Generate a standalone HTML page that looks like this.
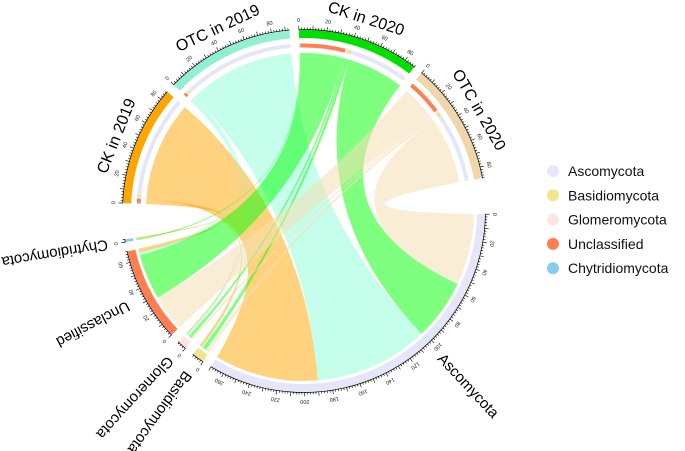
<!DOCTYPE html>
<html><head><meta charset="utf-8"><style>
html,body{margin:0;padding:0;background:#fff;}
svg{display:block;font-family:"Liberation Sans",sans-serif;}
</style></head><body>
<svg id="chart" width="685" height="451" viewBox="0 0 685 451">
<g id="ribbons"></g>
<g id="tracks"></g>
<g id="ticks"></g>
<g id="labels"></g>
<g id="legend"></g>
</svg>
<script>
const speciesNames = ["Ascomycota","Basidiomycota","Glomeromycota","Unclassified","Chytridiomycota"];
const sampleNames = ["CK in 2019","OTC in 2019","CK in 2020","OTC in 2020"];
// rows: species; columns: samples
const flowAsco = [80,88,47,55];
const flowBasid = [2,1,3,3];
const flowGlom = [1,2,2,2];
const flowUnclass = [3,2,35,28];
const flowChytrid = [1,0,1,0];
const legendLabels = ["Ascomycota","Basidiomycota","Glomeromycota","Unclassified","Chytridiomycota"];

const matrix=[flowAsco,flowBasid,flowGlom,flowUnclass,flowChytrid];
const speciesColor=["#E6E6FA","#F0E68C","#FFE4E1","#FF7F50","#87CEEB"];
const sampleBand=["#FFA500","#90F0D0","#00E000","#F0D6A8"];
const sampleRibbon=["rgba(255,165,0,0.5)","rgba(127,255,212,0.45)","rgba(0,255,0,0.5)","rgba(245,222,179,0.55)"];
const cx=304, cy=211, R1=173, R2=181;
const NS='http://www.w3.org/2000/svg';
const rad=d=>d*Math.PI/180;
const pt=(r,a)=>[cx+r*Math.cos(rad(a)),cy+r*Math.sin(rad(a))];
function mk(tag,attrs,parent){const e=document.createElementNS(NS,tag);for(const k in attrs)e.setAttribute(k,attrs[k]);parent.appendChild(e);return e;}

const spTot=matrix.map(r=>r.reduce((a,b)=>a+b,0));
const saTot=sampleNames.map((_,j)=>matrix.reduce((a,r)=>a+r[j],0));
const totals=spTot.concat(saTot);
const names=speciesNames.concat(sampleNames);
const gaps=[3,3,3,3,11.5,3,3,3,11.5];
const sumT=totals.reduce((a,b)=>a+b,0);
const scale=(360-gaps.reduce((a,b)=>a+b,0))/sumT;
const starts=[];let ang=1;
totals.forEach((t,i)=>{starts.push(ang);ang+=t*scale+gaps[i];});

function arcPath(r0,r1,a0,a1){
  const l=(a1-a0)>180?1:0;const p0=pt(r1,a0),p1=pt(r1,a1),p2=pt(r0,a1),p3=pt(r0,a0);
  return `M${p0}A${r1} ${r1} 0 ${l} 1 ${p1}L${p2}A${r0} ${r0} 0 ${l} 0 ${p3}Z`;
}
const spPos={};
speciesNames.forEach((s,i)=>{let a=starts[i];for(let j=3;j>=0;j--){const w=matrix[i][j]*scale;spPos[i+'_'+j]=[a,a+w];a+=w;}});
const saPos={};
sampleNames.forEach((s,j)=>{let a=starts[5+j];for(let i=4;i>=0;i--){const w=matrix[i][j]*scale;saPos[i+'_'+j]=[a,a+w];a+=w;}});

const gR=document.getElementById('ribbons');
const rS=170, rT=158;
for(let i=0;i<5;i++)for(let j=0;j<4;j++){
  if(!matrix[i][j])continue;
  const [a1,a2]=spPos[i+'_'+j],[b1,b2]=saPos[i+'_'+j];
  const d=`M${pt(rS,a1)}A${rS} ${rS} 0 0 1 ${pt(rS,a2)}Q${cx} ${cy} ${pt(rT,b1)}A${rT} ${rT} 0 0 1 ${pt(rT,b2)}Q${cx} ${cy} ${pt(rS,a1)}Z`;
  const p=mk('path',{d:d,fill:sampleRibbon[j]},gR);
  
  
}
const gT=document.getElementById('tracks');
totals.forEach((t,k)=>{
  const a0=starts[k],a1=a0+t*scale;
  const col=k<5?speciesColor[k]:sampleBand[k-5];
  const p=mk('path',{d:arcPath(R1,R2,a0,a1),fill:col},gT);
  
  
  if(k>=5){const j=k-5;for(let i=0;i<5;i++){if(!matrix[i][j])continue;const [b1,b2]=saPos[i+'_'+j];
    const q=mk('path',{d:arcPath(163.5,167.5,b1,b2),fill:speciesColor[i]},gT);
    
    }}
});
const gK=document.getElementById('ticks');
totals.forEach((t,k)=>{
  const a0=starts[k],a1=a0+t*scale;
  const ax=mk('path',{d:`M${pt(R2+0.5,a0)}A${R2+0.5} ${R2+0.5} 0 0 1 ${pt(R2+0.5,a1)}`,fill:'none',stroke:'#000','stroke-width':0.7},gK);
  
  
  for(let v=0;v<=t;v+=2){
    const a=a0+v*scale,maj=v%10===0;
    mk('line',{x1:pt(R2,a)[0],y1:pt(R2,a)[1],x2:pt(R2+(maj?4.5:2.5),a)[0],y2:pt(R2+(maj?4.5:2.5),a)[1],stroke:'#000','stroke-width':0.6},gK);
    if(v%20===0){const p=pt(R2+9.5,a);
      const tx=mk('text',{x:p[0],y:p[1],'font-size':5.5,'text-anchor':'middle','dominant-baseline':'middle',transform:`rotate(${a+90} ${p[0]} ${p[1]})`,fill:'#222'},gK);
      tx.textContent=v;
      
      }
  }
});
const gL=document.getElementById('labels');
const spLabelAng=[47,null,null,null,null];
speciesNames.forEach((s,i)=>{
  const mid=spLabelAng[i]!=null?spLabelAng[i]:starts[i]+spTot[i]*scale/2;
  const p=pt(199,mid);
  const tx=mk('text',{x:p[0],y:p[1],'font-size':15,'dominant-baseline':'middle',transform:`rotate(${mid} ${p[0]} ${p[1]})`},gL);
  tx.textContent=s;
  
  
});
sampleNames.forEach((s,j)=>{
  const mid=starts[5+j]+saTot[j]*scale/2;const p=pt(197,mid);
  const tx=mk('text',{x:p[0],y:p[1],'font-size':16,'text-anchor':'middle',transform:`rotate(${mid+90} ${p[0]} ${p[1]})`},gL);
  tx.textContent=s;
  
  
});
const gG=document.getElementById('legend');
legendLabels.forEach((s,i)=>{
  const y=171+i*24.3;
  const c=mk('circle',{cx:553,cy:y,r:6,fill:speciesColor[i]},gG);
  
  
  const t=mk('text',{x:568,y:y+5,'font-size':14,fill:'#111'},gG);
  t.textContent=s;
  
  
});
</script>
</body></html>
